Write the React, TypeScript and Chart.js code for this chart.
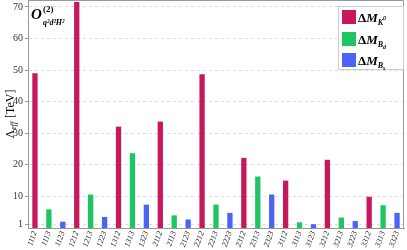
import React, { useEffect, useRef } from "react";
import { Chart, registerables } from "chart.js";
Chart.register(...registerables);

const categories = [
  "1112", "1113", "1123", "1212", "1213", "1223", "1312", "1313", "1323",
  "2112", "2113", "2123", "2212", "2213", "2223", "2312", "2313", "2323",
  "3112", "3113", "3123", "3212", "3213", "3223", "3312", "3313", "3323",
];
const dMK0 = [49.0, null, null, 71.6, null, null, 32.1, null, null, 33.7, null, null, 48.7, null, null, 22.2, null, null, 15.0, null, null, 21.6, null, null, 9.9, null, null];
const dMBd = [null, 5.9, null, null, 10.6, null, null, 23.7, null, null, 4.0, null, null, 7.4, null, null, 16.3, null, null, 1.8, null, null, 3.3, null, null, 7.2, null];
const dMBs = [null, null, 2.0, null, null, 3.5, null, null, 7.4, null, null, 2.7, null, null, 4.8, null, null, 10.6, null, null, 1.2, null, null, 2.2, null, null, 4.8];
const yTicks = [1, 10, 20, 30, 40, 50, 60, 70];
const legendSubs = ["K", "B", "B"];
const legendSubSubs = ["0", "d", "s"];
const colors = ["#C8185C", "#1DC663", "#4B63F6"];

const SERIF = "'Liberation Serif', 'DejaVu Serif', serif";

const overlay = {
  id: "overlay",
  afterDraw(chart: any) {
    const ctx = chart.ctx;
    const a = chart.chartArea;
    ctx.save();
    ctx.strokeStyle = "#999";
    ctx.lineWidth = 1;
    ctx.beginPath();
    ctx.moveTo(a.left, a.top + 0.5);
    ctx.lineTo(a.right - 0.5, a.top + 0.5);
    ctx.lineTo(a.right - 0.5, a.bottom);
    ctx.stroke();

    // annotation
    ctx.fillStyle = "#000";
    ctx.textBaseline = "alphabetic";
    ctx.font = `italic bold 15px ${SERIF}`;
    ctx.fillText("O", a.left + 3, a.top + 19);
    ctx.font = `bold 9px ${SERIF}`;
    ctx.fillText("(2)", a.left + 15, a.top + 12);
    ctx.font = `italic bold 8px ${SERIF}`;
    ctx.fillText("q²d²H²", a.left + 15, a.top + 25);

    // legend
    const bx = 338, by = 6, bw = 66, bh = 64;
    ctx.fillStyle = "#fff";
    ctx.fillRect(bx, by, bw, bh);
    ctx.strokeStyle = "#ccc";
    ctx.strokeRect(bx + 0.5, by + 0.5, bw - 1, bh - 1);
    const ys = [10, 32, 53];
    for (let i = 0; i < 3; i++) {
      ctx.fillStyle = colors[i];
      ctx.fillRect(342, ys[i], 14, 14);
      ctx.fillStyle = "#000";
      ctx.font = `bold 13px ${SERIF}`;
      ctx.fillText("Δ", 358, ys[i] + 12);
      let x = 358 + ctx.measureText("Δ").width;
      ctx.font = `italic bold 13px ${SERIF}`;
      ctx.fillText("M", x, ys[i] + 12);
      x += ctx.measureText("M").width;
      ctx.font = `italic bold 8px ${SERIF}`;
      ctx.fillText(legendSubs[i], x, ys[i] + 15);
      x += ctx.measureText(legendSubs[i]).width;
      ctx.font = `italic bold 6px ${SERIF}`;
      const dy = i === 0 ? 10 : 17;
      ctx.fillText(legendSubSubs[i], x, ys[i] + dy);
    }

    // y title
    ctx.translate(10, (a.top + a.bottom) / 2);
    ctx.rotate(-Math.PI / 2);
    ctx.fillStyle = "#000";
    ctx.font = `8px ${SERIF}`;
    const wEff = ctx.measureText("eff").width;
    ctx.font = `12px ${SERIF}`;
    const w1 = ctx.measureText("Λ").width;
    const w3 = ctx.measureText(" [TeV]").width;
    const x0 = -(w1 + wEff + w3) / 2;
    ctx.fillText("Λ", x0, 4);
    ctx.font = `italic 8px ${SERIF}`;
    ctx.fillText("eff", x0 + w1, 6);
    ctx.font = `12px ${SERIF}`;
    ctx.fillText(" [TeV]", x0 + w1 + wEff, 4);
    ctx.restore();
  },
};

export default function App() {
  const ref = useRef<HTMLCanvasElement | null>(null);
  useEffect(() => {
    document.body.style.margin = "0";
    const mk = (label: string, data: any[], color: string) => ({
      label,
      data,
      backgroundColor: color,
      borderWidth: 0,
      grouped: false,
      barPercentage: 0.38,
      categoryPercentage: 1,
    });
    const chart = new Chart(ref.current as HTMLCanvasElement, {
      type: "bar",
      data: {
        labels: categories,
        datasets: [
          mk("ΔM_K0", dMK0, colors[0]),
          mk("ΔM_Bd", dMBd, colors[1]),
          mk("ΔM_Bs", dMBs, colors[2]),
        ],
      },
      options: {
        animation: false,
        responsive: false,
        layout: { padding: { top: 0, right: 3, left: 0, bottom: 0 } },
        plugins: { legend: { display: false }, tooltip: { enabled: false } },
        scales: {
          x: {
            grid: { display: false, drawTicks: false },
            border: { display: true, color: "#999" },
            ticks: {
              autoSkip: false,
              maxRotation: 70,
              minRotation: 70,
              padding: 2,
              color: "#222",
              font: { family: SERIF, size: 8, style: "italic" },
            },
            afterFit(scale: any) {
              scale.height = 22;
              scale.paddingLeft = 0;
              scale.paddingRight = 0;
            },
          },
          y: {
            min: 0,
            max: 72.2,
            afterBuildTicks(scale: any) {
              scale.ticks = yTicks.map((v) => ({ value: v }));
            },
            grid: { color: "#ddd", tickLength: 3, tickColor: "#999" },
            border: { display: true, color: "#999", dash: [3, 3] },
            ticks: {
              padding: 2,
              color: "#333",
              font: { family: SERIF, size: 10 },
            },
            afterFit(scale: any) {
              scale.width = 28;
              scale.paddingTop = 0;
              scale.paddingBottom = 0;
            },
          },
        },
      },
      plugins: [overlay],
    } as any);
    return () => chart.destroy();
  }, []);
  return <canvas ref={ref} width={407} height={250} style={{ display: "block" }} />;
}
